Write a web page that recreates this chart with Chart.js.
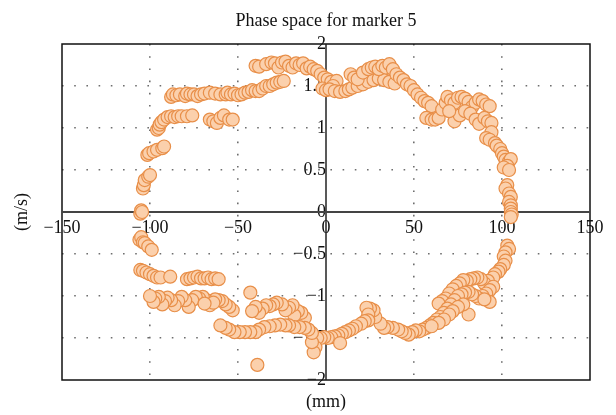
<!DOCTYPE html>
<html>
<head>
<meta charset="utf-8">
<title>Phase space for marker 5</title>
<script src="https://cdn.jsdelivr.net/npm/chart.js@4"></script>
<style>
  body { margin: 0; background: #fff; }
  canvas { display: block; }
</style>
</head>
<body>
<canvas id="phaseChart" width="616" height="415"></canvas>
<script>
// marker 5 samples: position (mm) and velocity (m/s), traced round the loop
const positionMM = [
  -105.5, -105, -104.5, -104, -103.5, -103, -101, -100,
  -101.5, -100.5, -98, -96, -93, -92,
  -96, -95, -94.5, -93.5, -92, -90, -88, -86, -84, -82, -79, -76,
  -88, -87, -85, -83, -80, -79, -77, -75, -73, -71, -69, -66, -63, -60, -57, -56, -54, -52, -50, -48, -46, -44, -42, -40, -38, -36, -34, -32, -30, -28, -26, -24,
  -66, -64, -62, -60, -58, -55, -53,
  -40, -38, -34, -31, -29, -27, -25, -23, -21, -19, -17, -15, -13, -11, -9, -7, -5, -3, -1, 1, 3, 6, 4,
  -2, 0, 2, 5, 8, 11, 13, 15, 18, 21, 24, 27, 30, 33, 36, 39,
  14, 16, 18, 21, 24, 26, 28, 30, 32, 34, 36, 38, 40, 42, 44, 46, 48, 50, 52, 54, 56, 58, 60,
  57, 60, 62, 64, 66, 68, 69, 71, 73, 75, 77, 79, 81, 83, 85, 87, 89, 91, 93, 73, 76, 79, 82, 85, 87, 90, 92, 94, 70,
  94, 91, 93, 96, 97, 99, 100, 101, 102, 104, 105, 103, 101, 104,
  103, 102, 104, 105, 104, 105, 105, 105, 105.5, 105,
  103, 104, 102, 101, 102, 101, 99, 98, 96, 95,
  92, 90, 88, 86, 84, 82, 80, 78, 76, 74, 72, 70, 68, 66, 64,
  95, 93, 91, 89, 87, 85, 83, 81, 79, 77, 75, 73, 71, 69, 67, 65, 63, 61, 59, 57, 55, 53, 51, 49, 47, 45,
  81, 78, 75, 72, 70, 67, 64, 60, 93, 90,
  43, 41, 38, 35, 33, 31, 28, 27, 25, 23, 24, 24, 22, 20, 17, 15, 13, 11, 9, 7, 5, 3, 1, -1, -3, -5, 8,
  -6, -7, -8,
  -12, -14, -16, -18, -19, -21, -23, -25, -28, -30, -32, -34, -36, -38, -40, -42, -43, -39,
  -8, -10, -12, -15, -18, -21, -23, -26, -29, -32, -35, -38, -40, -43, -46, -49, -52, -55, -57, -60,
  -53, -55, -57, -59, -61, -63, -66, -68, -70, -72, -74, -76, -78, -80, -82, -84, -86, -88, -90, -91.5, -93, -95, -97, -98, -100, -64, -69,
  -105.5, -104, -102, -100, -98, -96, -94, -88.5,
  -79, -77, -75, -73, -71, -69, -67, -65, -63, -61,
  -106, -105, -104, -103, -101, -99
];

const velocityMS = [
  -0.02, 0.02, 0.0, 0.28, 0.32, 0.38, 0.42, 0.44,
  0.68, 0.70, 0.72, 0.74, 0.76, 0.78,
  0.98, 1.0, 1.04, 1.07, 1.1, 1.13, 1.14, 1.13, 1.14, 1.14, 1.14, 1.15,
  1.37, 1.40, 1.39, 1.40, 1.38, 1.41, 1.40, 1.40, 1.38, 1.40, 1.41, 1.42, 1.41, 1.40, 1.40, 1.42, 1.40, 1.41, 1.39, 1.40, 1.42, 1.43, 1.45, 1.44, 1.44, 1.47, 1.50, 1.50, 1.52, 1.54, 1.55, 1.56,
  1.10, 1.08, 1.06, 1.12, 1.15, 1.10, 1.10,
  1.74, 1.73, 1.76, 1.78, 1.77, 1.72, 1.78, 1.79, 1.74, 1.72, 1.77, 1.75, 1.77, 1.71, 1.73, 1.70, 1.68, 1.64, 1.60, 1.58, 1.55, 1.56, 1.50,
  1.47, 1.45, 1.46, 1.44, 1.43, 1.44, 1.46, 1.48, 1.50, 1.52, 1.55, 1.57, 1.59, 1.57, 1.55, 1.53,
  1.64, 1.60, 1.58, 1.66, 1.70, 1.72, 1.73, 1.70, 1.74, 1.72, 1.76, 1.70, 1.64, 1.60, 1.57, 1.52, 1.50, 1.45, 1.40, 1.36, 1.32, 1.30, 1.26,
  1.12, 1.10, 1.10, 1.12, 1.22, 1.30, 1.37, 1.33, 1.30, 1.36, 1.37, 1.35, 1.31, 1.25, 1.30, 1.34, 1.32, 1.28, 1.26, 1.08, 1.15, 1.20, 1.17, 1.10, 1.05, 1.12, 1.08, 1.06, 1.20,
  0.95, 0.88, 0.86, 0.82, 0.79, 0.75, 0.70, 0.66, 0.62, 0.60, 0.63, 0.55, 0.53, 0.50,
  0.32, 0.28, 0.22, 0.18, 0.12, 0.08, 0.04, 0.0, -0.03, -0.06,
  -0.40, -0.44, -0.48, -0.53, -0.58, -0.63, -0.68, -0.71, -0.74, -0.78,
  -0.82, -0.85, -0.80, -0.78, -0.79, -0.80, -0.82, -0.81, -0.85, -0.88, -0.92, -0.97, -1.03, -1.06, -1.09,
  -0.89, -0.93, -0.97, -1.0, -1.03, -1.0, -0.98, -0.95, -0.96, -0.98, -1.0, -1.05, -1.10, -1.15, -1.20, -1.25, -1.28, -1.32, -1.35, -1.38, -1.40, -1.42, -1.41, -1.43, -1.46, -1.44,
  -1.22, -1.10, -1.13, -1.18, -1.22, -1.28, -1.32, -1.36, -1.07, -1.04,
  -1.42, -1.40, -1.38, -1.37, -1.38, -1.33, -1.25, -1.17, -1.15, -1.14, -1.22, -1.29, -1.30, -1.33, -1.36, -1.39, -1.41, -1.43, -1.45, -1.47, -1.48, -1.49, -1.50, -1.49, -1.50, -1.50, -1.56,
  -1.61, -1.67, -1.55,
  -1.26, -1.20, -1.18, -1.23, -1.11, -1.14, -1.17, -1.10, -1.08, -1.10, -1.12, -1.11, -1.15, -1.20, -1.13, -1.18, -0.96, -1.82,
  -1.44, -1.40, -1.38, -1.37, -1.37, -1.35, -1.35, -1.34, -1.35, -1.36, -1.37, -1.40, -1.43, -1.43, -1.43, -1.43, -1.43, -1.40, -1.38, -1.35,
  -1.17, -1.13, -1.10, -1.06, -1.05, -1.04, -1.11, -1.05, -1.01, -1.03, -1.01, -1.05, -1.13, -1.05, -1.01, -1.06, -1.11, -1.05, -1.02, -1.06, -1.10, -1.01, -1.03, -1.07, -1.0, -1.08, -1.09,
  -0.69, -0.70, -0.72, -0.74, -0.76, -0.78, -0.78, -0.77,
  -0.80, -0.79, -0.78, -0.77, -0.79, -0.79, -0.78, -0.80, -0.79, -0.80,
  -0.33, -0.30, -0.36, -0.37, -0.41, -0.45
];

const xTicks = [-150, -100, -50, 0, 50, 100, 150];
const yTicks = [-2, -1.5, -1, -0.5, 0, 0.5, 1, 1.5, 2];

const serif = '"Liberation Serif", "DejaVu Serif", serif';
const minus = v => String(v).replace('-', '\u2212');

// frame, the two zero axes, the title and the axis names
const framePlugin = {
  id: 'frame',
  beforeDatasetsDraw(chart) {
    const { ctx, chartArea: a } = chart;
    const x0 = chart.scales.x.getPixelForValue(0);
    const y0 = chart.scales.y.getPixelForValue(0);
    ctx.save();
    ctx.setLineDash([]);
    ctx.strokeStyle = '#111';
    ctx.lineWidth = 1.5;
    ctx.strokeRect(a.left, a.top, a.right - a.left, a.bottom - a.top);
    ctx.beginPath();
    ctx.moveTo(x0, a.top);
    ctx.lineTo(x0, a.bottom);
    ctx.strokeStyle = '#222';
    ctx.stroke();
    ctx.beginPath();
    ctx.moveTo(a.left, y0);
    ctx.lineTo(a.right, y0);
    ctx.strokeStyle = '#444';
    ctx.lineWidth = 2.2;
    ctx.stroke();
    ctx.restore();
  },
  afterDraw(chart) {
    const { ctx, chartArea: a } = chart;
    const cx = chart.scales.x.getPixelForValue(0);
    ctx.save();
    ctx.fillStyle = '#111';
    ctx.textAlign = 'center';
    ctx.textBaseline = 'middle';
    ctx.font = '18px ' + serif;
    ctx.fillText('Phase space for marker 5', cx, 21);
    ctx.fillText('(mm)', cx, a.bottom + 22);
    ctx.translate(22, (a.top + a.bottom) / 2);
    ctx.rotate(-Math.PI / 2);
    ctx.fillText('(m/s)', 0, 0);
    ctx.restore();
  }
};

const gridColor = edge => c =>
  (c.tick.value === 0 || Math.abs(c.tick.value) === edge) ? 'rgba(0,0,0,0)' : '#6e6e6e';

new Chart(document.getElementById('phaseChart'), {
  type: 'scatter',
  data: {
    datasets: [{
      data: positionMM.map((x, i) => ({ x: x, y: velocityMS[i] })),
      pointRadius: 6.5,
      pointHoverRadius: 6.5,
      pointBackgroundColor: '#fbd0ac',
      pointBorderColor: '#e88f49',
      pointBorderWidth: 1.2
    }]
  },
  options: {
    responsive: false,
    animation: false,
    devicePixelRatio: 1,
    layout: { padding: { left: 62, right: 26, top: 44, bottom: 35 } },
    plugins: {
      legend: { display: false },
      tooltip: { enabled: false },
      title: { display: false }
    },
    scales: {
      x: {
        type: 'linear',
        position: { y: 0 },
        min: -150,
        max: 150,
        afterBuildTicks: s => { s.ticks = xTicks.map(v => ({ value: v })); },
        ticks: {
          callback: minus,
          color: '#111',
          padding: 5,
          maxRotation: 0,
          font: { family: serif, size: 18 }
        },
        grid: {
          drawTicks: false,
          color: gridColor(150),
          lineWidth: 1.6
        },
        border: { display: false, dash: [1.6, 10.6] }
      },
      y: {
        type: 'linear',
        position: { x: 0 },
        min: -2,
        max: 2,
        afterBuildTicks: s => { s.ticks = yTicks.map(v => ({ value: v })); },
        ticks: {
          callback: minus,
          color: '#111',
          padding: 5,
          font: { family: serif, size: 18 }
        },
        grid: {
          drawTicks: false,
          color: gridColor(2),
          lineWidth: 1.6
        },
        border: { display: false, dash: [1.6, 10.6] }
      }
    }
  },
  plugins: [framePlugin]
});
</script>
</body>
</html>
